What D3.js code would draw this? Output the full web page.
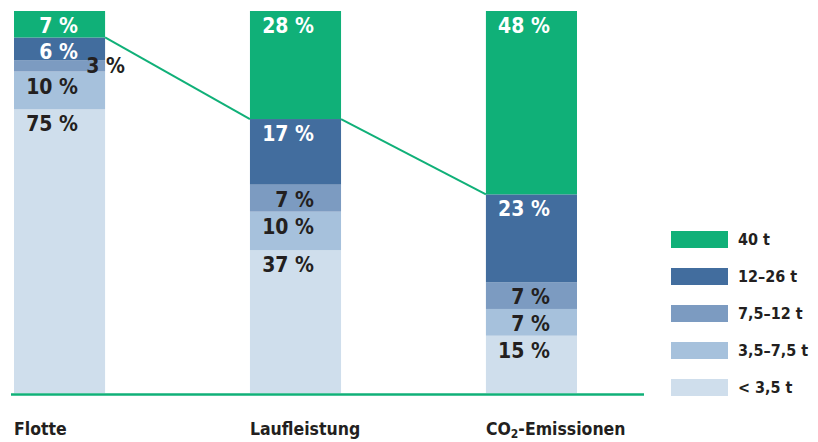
<!DOCTYPE html>
<html>
<head>
<meta charset="utf-8">
<script src="https://cdn.jsdelivr.net/npm/d3@7"></script>
<style>
  html, body { margin: 0; padding: 0; background: #fff; }
  svg { display: block; }
  text { font-family: "DejaVu Sans Condensed", "DejaVu Sans", sans-serif; font-weight: bold; }
</style>
</head>
<body>
<svg id="chart" width="818" height="442"></svg>
<script>
// Weight classes, bottom of the stack first
const classes = ["< 3,5 t", "3,5–7,5 t", "7,5–12 t", "12–26 t", "40 t"];
const categories = ["Flotte", "Laufleistung", "CO2-Emissionen"];
// Share (%) of each weight class per category, in the order of `classes`
const under35 = [75, 37, 15];
const w35to75 = [10, 10, 7];
const w75to12 = [3, 7, 7];
const w12to26 = [6, 17, 23];
const w40 = [7, 28, 48];

const seriesValues = [under35, w35to75, w75to12, w12to26, w40];
const colors = ["#cfdeec", "#a6c1dc", "#7c9bc1", "#426d9e", "#10b078"];
const lightText = [false, false, false, true, true];

const rows = categories.map((c, i) => {
  const r = { category: c };
  classes.forEach((k, j) => { r[k] = seriesValues[j][i]; });
  return r;
});

const svg = d3.select("#chart");
const baseY = 393, topY = 11;

const x = d3.scaleBand().domain(categories).range([14, 577]).paddingInner(0.614).paddingOuter(0);
const y = d3.scaleLinear().domain([0, 1]).range([baseY, topY]);

const stack = d3.stack().keys(classes).offset(d3.stackOffsetExpand);
const layers = stack(rows);

// Stacked bars
const g = svg.append("g");
layers.forEach((layer, j) => {
  g.selectAll(null)
    .data(layer)
    .join("rect")
    .attr("x", d => x(d.data.category))
    .attr("y", d => y(d[1]))
    .attr("width", x.bandwidth())
    .attr("height", d => y(d[0]) - y(d[1]))
    .attr("fill", colors[j]);
});

// Connector along the lower edge of the "40 t" segments
const green = layers[classes.length - 1];
for (let i = 0; i < categories.length - 1; i++) {
  const a = green[i], b = green[i + 1];
  svg.append("line")
    .attr("x1", x(a.data.category) + x.bandwidth())
    .attr("y1", y(a[0]))
    .attr("x2", x(b.data.category))
    .attr("y2", y(b[0]))
    .attr("stroke", "#10b078")
    .attr("stroke-width", 2);
}

// Percentage labels
layers.forEach((layer, j) => {
  layer.forEach(d => {
    const segH = y(d[0]) - y(d[1]);
    const x0 = x(d.data.category);
    const small = segH < 15;
    svg.append("text")
      .attr("x", small ? x0 + 111 : x0 + 64)
      .attr("y", small ? y(d[0]) + 1 : y(d[1]) + 22)
      .attr("text-anchor", "end")
      .attr("font-size", 21)
      .attr("fill", lightText[j] && !small ? "#ffffff" : "#231f20")
      .text(d.data[classes[j]] + " %");
  });
});

// Baseline
svg.append("line")
  .attr("x1", 11).attr("x2", 644)
  .attr("y1", baseY + 1.5).attr("y2", baseY + 1.5)
  .attr("stroke", "#10b078")
  .attr("stroke-width", 2.5);

// Category labels
categories.forEach(c => {
  const t = svg.append("text")
    .attr("x", x(c))
    .attr("y", 435)
    .attr("font-size", 17.5)
    .attr("fill", "#231f20");
  if (c === "CO2-Emissionen") {
    t.append("tspan").text("CO");
    t.append("tspan").attr("dy", 3).attr("font-size", 12).text("2");
    t.append("tspan").attr("dy", -3).text("-Emissionen");
  } else {
    t.text(c);
  }
});

// Legend, heaviest class first
const legendOrder = classes.map((k, j) => ({ key: k, color: colors[j] })).reverse();
const legend = svg.append("g");
legendOrder.forEach((d, i) => {
  const ly = 231 + i * 37;
  legend.append("rect")
    .attr("x", 671).attr("y", ly)
    .attr("width", 57).attr("height", 17)
    .attr("fill", d.color);
  legend.append("text")
    .attr("x", 738).attr("y", ly + 14)
    .attr("font-size", 16)
    .attr("fill", "#231f20")
    .text(d.key);
});
</script>
</body>
</html>
